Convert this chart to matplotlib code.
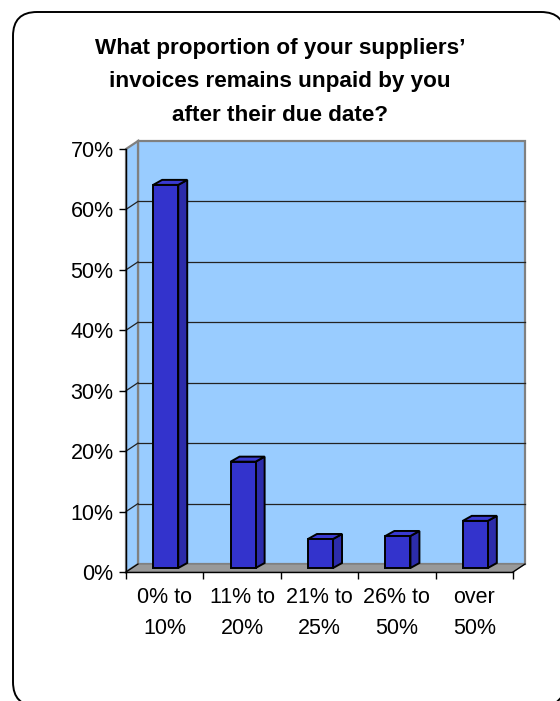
import matplotlib.pyplot as plt
from matplotlib.patches import Polygon, FancyBboxPatch

plt.rcParams['font.family'] = ['Liberation Sans', 'DejaVu Sans']

# ── data ──────────────────────────────────────────────────────
categories = ["0% to\n10%", "11% to\n20%", "21% to\n25%", "26% to\n50%", "over\n50%"]
shares = [63.4, 17.6, 4.8, 5.3, 7.8]          # percent of respondents
y_ticks = [0, 10, 20, 30, 40, 50, 60, 70]
title = ("What proportion of your suppliers’\n"
         "invoices remains unpaid by you\n"
         "after their due date?")

# ── styling ───────────────────────────────────────────────────
WALL = "#99CCFF"
WALL_EDGE = "#808080"
FLOOR = "#999999"
BAR_FRONT = "#3333CC"
BAR_SIDE = "#2C2CAA"
BAR_TOP = "#3A3AD2"

W, H = 560, 701
DX, DY = 0.155, 1.32          # depth of the back wall (data units)
BOX, BOY = 0.013, 0.66        # bar front face offset into the depth
HW = 0.162                    # half width of a bar
BDX, BDY = 0.116, 0.83        # bar depth

fig = plt.figure(figsize=(W / 100, H / 100), dpi=100)

# rounded frame and title live on a full-figure overlay in pixel coords
bg = fig.add_axes([0, 0, 1, 1])
bg.set_xlim(0, W)
bg.set_ylim(H, 0)
bg.axis("off")
bg.add_patch(FancyBboxPatch((13, 12), 552, 694,
                            boxstyle="round,pad=0,rounding_size=24",
                            facecolor="white", edgecolor="black", lw=1.4))
bg.text(280, 82, title, ha="center", va="center", fontsize=16.2,
        fontweight="bold", linespacing=1.78)

x0, x1, y0, y1 = 126, 513, 572, 149
ax = fig.add_axes([x0 / W, (H - y0) / H, (x1 - x0) / W, (y0 - y1) / H])
ax.set_xlim(-0.5, len(categories) - 0.5)
ax.set_ylim(0, 70)
ax.patch.set_visible(False)
xl, xr = -0.5, len(categories) - 0.5

# back wall, side wall and floor
ax.add_patch(Polygon([(xl + DX, DY), (xr + DX, DY), (xr + DX, 70 + DY), (xl + DX, 70 + DY)],
                     closed=True, facecolor=WALL, edgecolor=WALL_EDGE, lw=1.6,
                     clip_on=False, zorder=1))
ax.add_patch(Polygon([(xl, 0), (xl + DX, DY), (xl + DX, 70 + DY), (xl, 70)],
                     closed=True, facecolor=WALL, edgecolor=WALL_EDGE, lw=1.6,
                     clip_on=False, zorder=1))
ax.add_patch(Polygon([(xl, 0), (xr, 0), (xr + DX, DY), (xl + DX, DY)],
                     closed=True, facecolor=FLOOR, edgecolor=WALL_EDGE, lw=1,
                     clip_on=False, zorder=1))

# gridlines across the back wall and the side wall
for v in y_ticks[1:-1]:
    ax.plot([xl + DX, xr + DX], [v + DY, v + DY], color="#222222", lw=0.9,
            clip_on=False, zorder=2)
    ax.plot([xl, xl + DX], [v, v + DY], color="#222222", lw=0.9,
            clip_on=False, zorder=2)
ax.plot([xl, xl + DX], [0, DY], color="black", lw=0.9, clip_on=False, zorder=2)
ax.plot([xr, xr + DX], [0, DY], color="black", lw=0.9, clip_on=False, zorder=2)

# 3-D looking columns: front face, right side, top
for i, v in enumerate(shares):
    l, r = i - HW + BOX, i + HW + BOX
    b, t = BOY, BOY + v
    ax.add_patch(Polygon([(r, b), (r + BDX, b + BDY), (r + BDX, t + BDY), (r, t)],
                         closed=True, facecolor=BAR_SIDE, edgecolor="black",
                         lw=1.4, zorder=3, clip_on=False))
    ax.add_patch(Polygon([(l, t), (r, t), (r + BDX, t + BDY), (l + BDX, t + BDY)],
                         closed=True, facecolor=BAR_TOP, edgecolor="black",
                         lw=1.4, zorder=3, clip_on=False))
    ax.add_patch(Polygon([(l, b), (r, b), (r, t), (l, t)],
                         closed=True, facecolor=BAR_FRONT, edgecolor="black",
                         lw=1.4, zorder=4, clip_on=False))

# front axes
for side in ("top", "right"):
    ax.spines[side].set_visible(False)
for side in ("left", "bottom"):
    ax.spines[side].set_color("black")
    ax.spines[side].set_linewidth(1)
    ax.spines[side].set_zorder(5)

ax.set_yticks(y_ticks)
ax.set_yticklabels([f"{v}%" for v in y_ticks])
ax.tick_params(axis="y", direction="out", length=5, width=1, pad=4,
               labelsize=15.5, colors="black")

ax.set_xticks([k - 0.5 for k in range(len(categories) + 1)])
ax.set_xticklabels([])
ax.set_xticks(range(len(categories)), minor=True)
ax.set_xticklabels(categories, minor=True, fontsize=15.5, linespacing=1.62)
ax.tick_params(axis="x", which="major", direction="out", length=5, width=1)
ax.tick_params(axis="x", which="minor", length=0, pad=11)

fig.savefig("out.png", dpi=100)
